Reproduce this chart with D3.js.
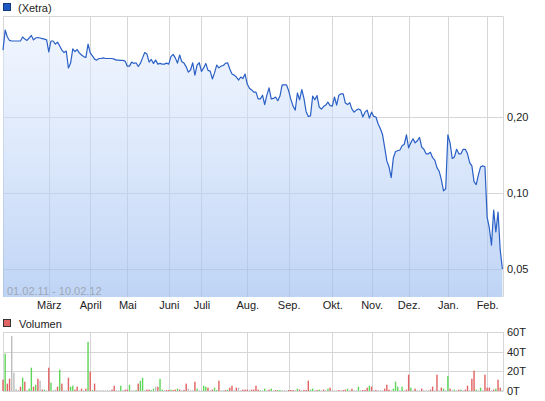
<!DOCTYPE html>
<html><head><meta charset="utf-8">
<script src="https://cdn.jsdelivr.net/npm/d3@7"></script>
<style>
body{margin:0;background:#fff;}
svg{display:block;font-family:"Liberation Sans",Arial,sans-serif;}
</style>
</head><body>
<svg id="chart" width="545" height="401"></svg>
<script>
// ---- data ----
const seriesName = "(Xetra)";
const volumeName = "Volumen";
const rangeLabel = "01.02.11 - 10.02.12";

const prices = [
0.368,0.442,0.415,0.402,0.400,0.400,0.400,0.400,0.400,0.415,
0.407,0.402,0.411,0.421,0.404,0.411,0.413,0.411,0.409,0.407,
0.404,0.362,0.400,0.400,0.389,0.396,0.382,0.368,0.360,0.365,
0.313,0.327,0.372,0.363,0.370,0.359,0.352,0.347,0.344,0.389,
0.359,0.349,0.339,0.336,0.341,0.341,0.343,0.341,0.341,0.341,
0.341,0.339,0.336,0.336,0.335,0.335,0.333,0.318,0.318,0.330,
0.326,0.328,0.317,0.326,0.343,0.360,0.355,0.330,0.338,0.326,
0.336,0.324,0.326,0.324,0.324,0.327,0.324,0.347,0.354,0.343,
0.327,0.352,0.331,0.327,0.316,0.301,0.307,0.328,0.293,0.321,
0.328,0.303,0.313,0.326,0.306,0.304,0.283,0.299,0.321,0.313,
0.318,0.320,0.326,0.328,0.310,0.296,0.293,0.288,0.280,0.288,
0.284,0.296,0.270,0.260,0.256,0.251,0.251,0.236,0.236,0.244,
0.224,0.244,0.261,0.236,0.237,0.240,0.232,0.242,0.268,0.268,
0.268,0.254,0.235,0.221,0.213,0.249,0.234,0.257,0.237,0.210,
0.201,0.202,0.242,0.234,0.243,0.219,0.215,0.220,0.223,0.229,
0.222,0.221,0.240,0.223,0.244,0.247,0.247,0.227,0.224,0.228,
0.215,0.209,0.213,0.215,0.213,0.200,0.209,0.213,0.198,0.209,
0.201,0.200,0.188,0.180,0.171,0.152,0.134,0.127,0.115,0.138,
0.146,0.147,0.148,0.154,0.156,0.170,0.151,0.158,0.164,0.158,
0.161,0.166,0.152,0.149,0.143,0.143,0.145,0.138,0.135,0.126,
0.122,0.113,0.102,0.104,0.170,0.158,0.137,0.139,0.149,0.143,
0.143,0.149,0.149,0.143,0.132,0.128,0.111,0.108,0.118,0.127,
0.128,0.127,0.0803,0.0727,0.0622,0.0856,0.0701,0.0841,0.0595,0.0500
];

// volume in thousands (T)
const volumes = [
11.5,38,7.5,12.5,56,18.6,2,1,4.4,13.5,
9.5,1,2.4,23.7,4.4,6.4,12.5,10.5,1.4,1.4,
0.8,23.7,8.5,0.8,1.5,4.4,21.7,7.5,0.8,0.8,
13.5,4.4,5.4,1.4,4.4,0.8,2.4,0.8,2.4,50,
19.7,1,7.5,0.8,0.8,0.8,0.8,0.8,0.8,0.8,
1.4,5.4,0.8,0.8,5.4,0.8,1.4,1.4,6.4,0.8,
0.8,1,7.5,10.5,13.5,0.8,1.4,1.4,1,2.4,
4.4,4.4,12.5,1.4,0.8,1,1,1.4,1,1.4,
2.4,1.4,0.8,1,7.5,2.4,0.8,0.8,9.5,2.4,
0.8,0.8,5.4,4.4,3.4,0.8,1.4,3.4,1,10.5,
0.8,0.8,1,1.4,3.4,5.4,0.8,3.4,3.4,0.8,
1.4,1.4,1.4,1.4,1.4,1.4,5.4,1.4,0.8,0.8,
2.4,0.8,1.4,2.4,0.8,1,1,1,0.8,0.8,
0.8,1,1,1,0.8,2.4,1.4,0.8,1,1,
10.5,1.4,2.4,0.8,1,1.4,0.8,1.4,0.8,2.4,
3.4,0.8,0.8,0.8,1,0.8,1,1.4,2.4,0.8,
2.4,0.8,0.8,4.4,0.8,1,1,3.4,5.4,4.4,
0.8,1,0.8,0.8,0.8,2.4,6.4,1.4,0.8,2.4,
9.5,4.4,0.8,4.4,0.8,1.4,16.6,3.4,0.8,2.4,
0.8,0.8,2.4,0.8,0.8,0.8,1.4,4.4,0.8,16.6,
0.8,3.4,2.4,0.8,15.3,2.4,0.8,1.4,0.8,1.4,
1.4,0.8,1.4,5.4,0.8,12.5,20.7,1.4,0.8,3.4,
0.8,16.6,3.4,3.4,0.8,1.4,2.4,11.5,3.4,0.8
];

// u = up day (green), d = down day (red), n = unchanged (grey)
const volumeDir = [
"d","u","d","d","n","n","n","n","d","u",
"d","n","u","u","d","u","d","n","d","u",
"n","d","u","n","n","d","u","d","n","n",
"d","u","u","d","d","n","d","n","d","u",
"d","u","d","n","n","n","n","n","n","n",
"d","d","n","n","u","n","d","d","u","n",
"n","u","d","u","u","n","d","d","u","u",
"n","d","u","u","n","d","d","u","d","d",
"u","d","n","d","d","n","n","n","d","u",
"n","n","u","u","d","n","d","u","u","d",
"n","n","d","u","d","d","n","d","n","n",
"d","d","d","n","d","d","d","d","u","n",
"u","n","d","u","n","d","u","u","n","n",
"n","d","d","d","n","u","d","n","d","d",
"d","u","u","n","d","u","n","d","n","u",
"d","n","n","n","d","n","d","d","u","n",
"d","n","n","u","n","d","d","d","u","d",
"n","d","n","n","n","d","d","d","n","u",
"u","u","n","u","n","d","d","u","n","d",
"n","n","d","n","n","n","d","d","n","d",
"n","d","u","n","u","d","n","u","n","d",
"u","n","d","d","n","d","d","u","n","u",
"n","d","d","d","n","d","u","d","d","n"
];

const monthLabels = ["März","April","Mai","Juni","Juli","Aug.","Sep.","Okt.","Nov.","Dez.","Jan.","Feb."];
const monthStarts = [21,40,57,76,91,112,131,151,169,186,204,222];

const priceTicks = [0.05,0.10,0.20];
const priceTickLabels = ["0,05","0,10","0,20"];
const volumeTicks = [0,20,40,60];
const volumeTickLabels = ["0T","20T","40T","60T"];

// ---- layout ----
const L = 3, R = 503;
const pTop = 16, pBot = 297;
const vTop = 332, vBot = 391;

const svg = d3.select("#chart");

const x = d3.scaleLinear().domain([0, prices.length - 1]).range([L, R - 0.6]);
const y = d3.scaleLog().domain([0.05, 0.2]).range([269, 117]);
const yv = d3.scaleLinear().domain([0, 60]).range([vBot, vTop]);

const gridColor = "#d6d6d6";
const crisp = v => Math.round(v) + 0.5;

// gradient
const defs = svg.append("defs");
const grad = defs.append("linearGradient").attr("id","areaGrad")
  .attr("x1",0).attr("y1",0).attr("x2",0).attr("y2",1)
  .attr("gradientUnits","userSpaceOnUse")
  .attr("x1",0).attr("y1",pTop).attr("x2",0).attr("y2",pBot);
grad.append("stop").attr("offset","0%").attr("stop-color","#e6efff").attr("stop-opacity",0.5);
grad.append("stop").attr("offset","100%").attr("stop-color","#9cbdf0").attr("stop-opacity",0.65);

// ---- legend ----
svg.append("rect").attr("x",3.5).attr("y",3.5).attr("width",7).attr("height",7)
  .attr("fill","#1f58c2").attr("stroke","#123a80");
svg.append("text").attr("x",18).attr("y",11.5).attr("font-size",11).attr("fill","#222").text(seriesName);

// ---- price chart grid ----
const pg = svg.append("g");
pg.selectAll("line.v").data(monthStarts).join("line")
  .attr("x1", d => crisp(x(d))).attr("x2", d => crisp(x(d)))
  .attr("y1", pTop).attr("y2", pBot)
  .attr("stroke", gridColor);
pg.selectAll("line.h").data(priceTicks).join("line")
  .attr("x1", L).attr("x2", R)
  .attr("y1", d => crisp(y(d))).attr("y2", d => crisp(y(d)))
  .attr("stroke", gridColor);
// frame
pg.append("path")
  .attr("d", `M${L+0.5},${pBot}V${pTop+0.5}H${R+0.5}V${pBot}`)
  .attr("fill","none").attr("stroke", gridColor);

// area + line
const area = d3.area().x((d,i) => x(i)).y0(pBot).y1(d => y(d));
svg.append("path").datum(prices).attr("d", area).attr("fill","url(#areaGrad)");
const line = d3.line().x((d,i) => x(i)).y(d => y(d));
svg.append("path").datum(prices).attr("d", line)
  .attr("fill","none").attr("stroke","#2a60c6").attr("stroke-width",1.2).attr("stroke-linejoin","round");

// date range text
svg.append("text").attr("x",7).attr("y",295).attr("font-size",11).attr("fill","#9ea7b4").text(rangeLabel);

// x axis labels
const xAxis = d3.axisBottom(x).tickValues(monthStarts)
  .tickFormat((d,i) => monthLabels[i]).tickSize(0).tickPadding(4);
const xg = svg.append("g").attr("transform", `translate(0,${pBot})`).call(xAxis);
xg.select(".domain").remove();
xg.selectAll("text").attr("font-size",11).attr("fill","#222").attr("font-family",'"Liberation Sans",Arial,sans-serif');

// y axis labels (price)
const yAxis = d3.axisRight(y).tickValues(priceTicks)
  .tickFormat((d,i) => priceTickLabels[i]).tickSize(0).tickPadding(4);
const yg = svg.append("g").attr("transform", `translate(${R},0)`).call(yAxis);
yg.select(".domain").remove();
yg.selectAll("text").attr("font-size",11).attr("fill","#222").attr("font-family",'"Liberation Sans",Arial,sans-serif');

// ---- volume legend ----
svg.append("rect").attr("x",3.5).attr("y",319.5).attr("width",7).attr("height",7)
  .attr("fill","#e06464").attr("stroke","#333");
svg.append("text").attr("x",19).attr("y",327.5).attr("font-size",11).attr("fill","#222").text(volumeName);

// ---- volume chart ----
const vg = svg.append("g");
vg.selectAll("line.v").data(monthStarts).join("line")
  .attr("x1", d => crisp(x(d))).attr("x2", d => crisp(x(d)))
  .attr("y1", vTop).attr("y2", vBot)
  .attr("stroke", gridColor);
vg.selectAll("line.h").data(volumeTicks).join("line")
  .attr("x1", L).attr("x2", R)
  .attr("y1", d => crisp(yv(d))).attr("y2", d => crisp(yv(d)))
  .attr("stroke", gridColor);
vg.append("line").attr("x1",L+0.5).attr("x2",L+0.5).attr("y1",vTop).attr("y2",vBot+0.5).attr("stroke",gridColor);
vg.append("line").attr("x1",R+0.5).attr("x2",R+0.5).attr("y1",vTop).attr("y2",vBot+0.5).attr("stroke",gridColor);

const dirColor = {u:"#5fd65a", d:"#e06262", n:"#bdbdbd"};
vg.selectAll("rect.bar").data(volumes).join("rect")
  .attr("x", (d,i) => x(i) - 0.7)
  .attr("width", 1.4)
  .attr("y", d => yv(d))
  .attr("height", d => yv(0) - yv(d))
  .attr("fill", (d,i) => dirColor[volumeDir[i]]);

const yvAxis = d3.axisRight(yv).tickValues(volumeTicks)
  .tickFormat((d,i) => volumeTickLabels[i]).tickSize(0).tickPadding(4);
const yvg = svg.append("g").attr("transform", `translate(${R},0)`).call(yvAxis);
yvg.select(".domain").remove();
yvg.selectAll("text").attr("font-size",11).attr("fill","#222").attr("font-family",'"Liberation Sans",Arial,sans-serif');
</script>
</body></html>
